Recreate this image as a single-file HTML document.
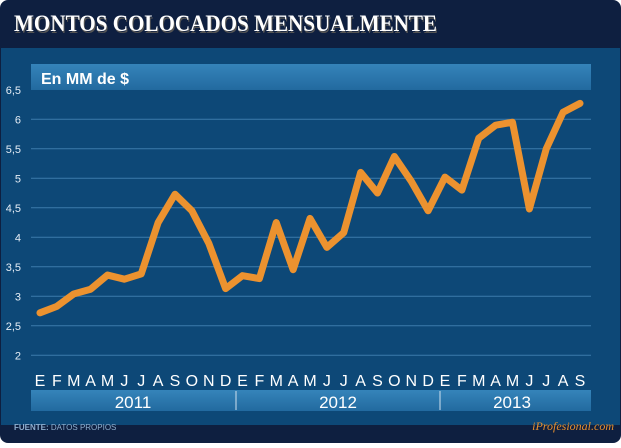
<!DOCTYPE html>
<html><head><meta charset="utf-8"><style>
body{margin:0;width:621px;height:443px;overflow:hidden;background:#fff;font-family:"Liberation Sans",sans-serif}
</style></head><body>
<svg width="621" height="443" xmlns="http://www.w3.org/2000/svg">
<defs>
<linearGradient id="bar" x1="0" y1="0" x2="0" y2="1"><stop offset="0" stop-color="#3584ba"/><stop offset="1" stop-color="#226a9f"/></linearGradient>
</defs>
<rect x="0" y="0" width="621" height="443" rx="8" fill="#0e1f40"/>
<rect x="1" y="48" width="619" height="377" fill="#0d4877"/>
<text x="15" y="33" font-family="Liberation Serif,serif" font-size="23" font-weight="bold" fill="#555" textLength="423" lengthAdjust="spacingAndGlyphs">MONTOS COLOCADOS MENSUALMENTE</text>
<text x="14" y="31" font-family="Liberation Serif,serif" font-size="23" font-weight="bold" fill="#fff" textLength="423" lengthAdjust="spacingAndGlyphs">MONTOS COLOCADOS MENSUALMENTE</text>
<rect x="31" y="64" width="560" height="26" fill="url(#bar)"/>
<text x="41" y="84" font-size="16" font-weight="bold" fill="#fff">En MM de $</text>
<g id="grid"></g>
<g id="months"></g>
<rect x="31" y="390" width="560" height="21" fill="url(#bar)"/>
<line x1="236" y1="391" x2="236" y2="410" stroke="#cfe0ee" stroke-width="1"/>
<line x1="440" y1="391" x2="440" y2="410" stroke="#cfe0ee" stroke-width="1"/>
<text x="133" y="408" font-size="17" fill="#fff" text-anchor="middle">2011</text>
<text x="338" y="408" font-size="17" fill="#fff" text-anchor="middle">2012</text>
<text x="512" y="408" font-size="17" fill="#fff" text-anchor="middle">2013</text>
<text x="14" y="430" font-size="8" fill="#8fb0d0"><tspan font-weight="bold">FUENTE:</tspan> DATOS PROPIOS</text>
<text x="614" y="430" font-family="Liberation Serif,serif" font-style="italic" font-size="12" fill="#e8902e" text-anchor="end">iProfesional.com</text>
<polyline id="line" fill="none" stroke="#ec922f" stroke-width="7" stroke-linejoin="round" stroke-linecap="round"/>
</svg>
<script>
const months=["E","F","M","A","M","J","J","A","S","O","N","D","E","F","M","A","M","J","J","A","S","O","N","D","E","F","M","A","M","J","J","A","S"];
const values=[2.72,2.83,3.04,3.12,3.36,3.29,3.38,4.25,4.73,4.45,3.9,3.13,3.35,3.3,4.25,3.45,4.32,3.83,4.08,5.1,4.75,5.37,4.95,4.45,5.02,4.8,5.68,5.9,5.95,4.48,5.5,6.12,6.27];
const ticks=[2,2.5,3,3.5,4,4.5,5,5.5,6,6.5];
const tickLabels=["2","2,5","3","3,5","4","4,5","5","5,5","6","6,5"];
const ns="http://www.w3.org/2000/svg";
const y=v=>355.3-(v-2)*59;
const x=i=>40+i*(540/32);
const g=document.getElementById('grid');
ticks.forEach((t,k)=>{
 if(t<6.5){const l=document.createElementNS(ns,'line');
 l.setAttribute('x1',31);l.setAttribute('x2',591);l.setAttribute('y1',y(t));l.setAttribute('y2',y(t));
 l.setAttribute('stroke','#3d7bab');l.setAttribute('stroke-width','1');
 
 
 g.appendChild(l);}
 const tx=document.createElementNS(ns,'text');
 tx.setAttribute('x',21);tx.setAttribute('y',y(t)+4);tx.setAttribute('text-anchor','end');
 tx.setAttribute('font-size','11');tx.setAttribute('fill','#e6eef6');tx.textContent=tickLabels[k];
 
 
 g.appendChild(tx);
});
const m=document.getElementById('months');
months.forEach((s,i)=>{
 const tx=document.createElementNS(ns,'text');
 tx.setAttribute('x',x(i));tx.setAttribute('y',386);tx.setAttribute('text-anchor','middle');
 tx.setAttribute('font-size','16');tx.setAttribute('fill','#fff');tx.textContent=s;
 
 
 m.appendChild(tx);
});
document.getElementById('line').setAttribute('points',values.map((v,i)=>x(i)+','+y(v)).join(' '));
</script>
</body></html>
